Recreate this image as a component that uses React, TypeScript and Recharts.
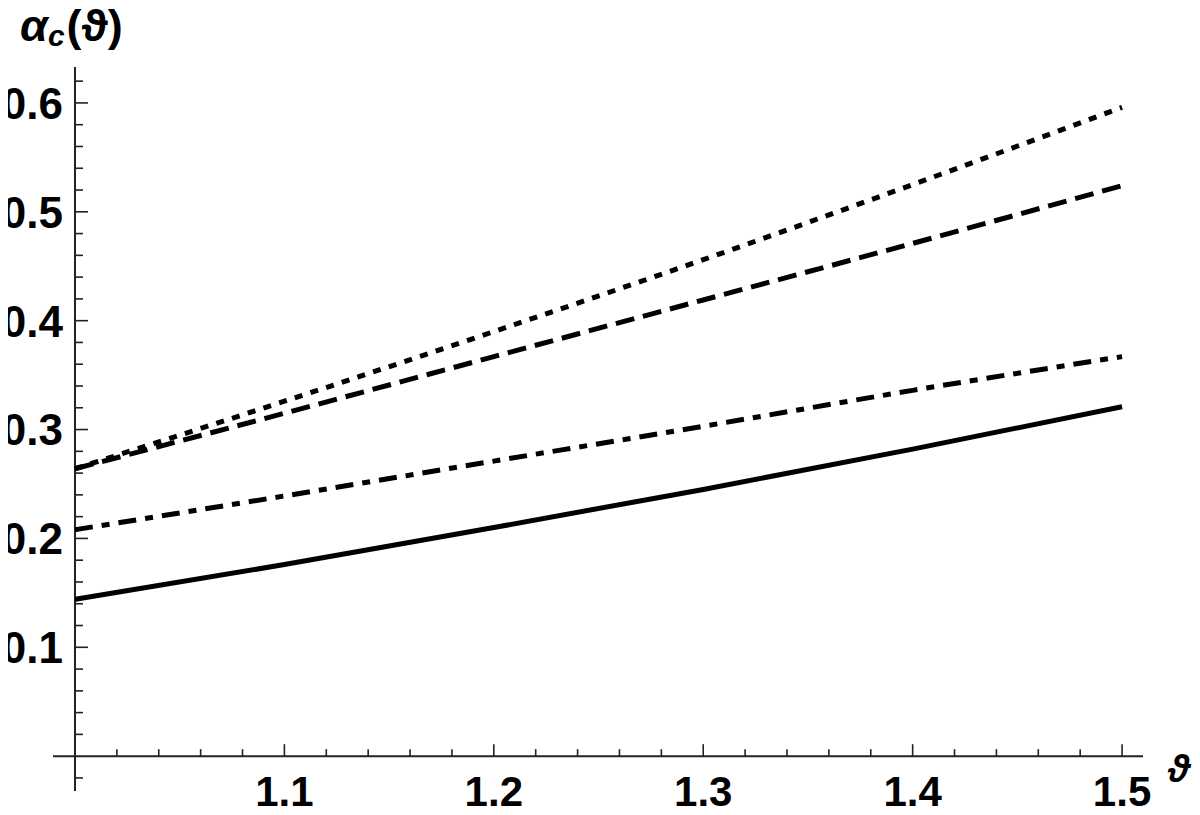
import React from 'react';
import { LineChart, Line, XAxis, YAxis, ReferenceLine } from 'recharts';

// values
const theta = [1.0, 1.1, 1.2, 1.3, 1.4, 1.5];
const solidVals = [0.144, 0.176, 0.21, 0.245, 0.282, 0.321];
const dotDashVals = [0.208, 0.239, 0.271, 0.303, 0.336, 0.367];
const dashedVals = [0.264, 0.315, 0.367, 0.419, 0.471, 0.524];
const dottedVals = [0.264, 0.326, 0.39, 0.456, 0.525, 0.596];

const xTickLabels = [1.1, 1.2, 1.3, 1.4, 1.5];
const yTickLabels = [0.1, 0.2, 0.3, 0.4, 0.5, 0.6];

const data = theta.map((t, i) => ({
  t,
  solid: solidVals[i],
  dotDash: dotDashVals[i],
  dashed: dashedVals[i],
  dotted: dottedVals[i],
}));

// chart fills the whole window (body margin cancelled below)
const W = 1200;
const H = 815;
// axes take 1px each (a 0px axis is not drawn)
const margin = { top: 67, right: 57, bottom: 23, left: 52 };
const X_DOMAIN: [number, number] = [0.9895, 1.51];
const Y_DOMAIN: [number, number] = [-0.032, 0.633];

// pixels per data unit, used for tick lengths
const XPX = (W - margin.left - 1 - margin.right) / (X_DOMAIN[1] - X_DOMAIN[0]);
const YPX = (H - margin.top - margin.bottom - 1) / (Y_DOMAIN[1] - Y_DOMAIN[0]);

const AXIS = '#222';
const FONT = '"Liberation Sans", Arial, sans-serif';

const xMinor: number[] = [];
for (let i = 1; i < 25; i++) if (i % 5 !== 0) xMinor.push(+(1 + i * 0.02).toFixed(2));
const yMinor: number[] = [];
for (let i = -1; i <= 31; i++) if (i % 5 !== 0) yMinor.push(+(i * 0.02).toFixed(2));

const XTick = (props: any) => (
  <text x={props.x} y={props.y + 15} textAnchor="middle" fontFamily={FONT} fontWeight="bold" fontSize={42} fill="#000">
    {Number(props.payload.value).toFixed(1)}
  </text>
);

const YTick = (props: any) => (
  <text x={props.x + 10} y={props.y} dy="0.36em" textAnchor="end" fontFamily={FONT} fontWeight="bold" fontSize={44} fill="#000">
    {Number(props.payload.value).toFixed(1)}
  </text>
);

export default function App() {
  return (
    <div style={{ position: 'relative', width: W, height: H, margin: -8 }}>
      <LineChart width={W} height={H} data={data} margin={margin}>
        <XAxis
          dataKey="t"
          type="number"
          domain={X_DOMAIN}
          allowDataOverflow
          ticks={xTickLabels}
          axisLine={false}
          tickLine={false}
          tickSize={0}
          tickMargin={0}
          height={1}
          tick={XTick}
          interval={0}
        />
        <YAxis
          type="number"
          domain={Y_DOMAIN}
          allowDataOverflow
          ticks={yTickLabels}
          axisLine={false}
          tickLine={false}
          tickSize={0}
          tickMargin={0}
          width={1}
          tick={YTick}
          interval={0}
        />

        <ReferenceLine x={1} stroke={AXIS} strokeWidth={2} />
        <ReferenceLine y={0} stroke={AXIS} strokeWidth={2} />

        {xTickLabels.map((v) => (
          <ReferenceLine key={'xM' + v} segment={[{ x: v, y: 0 }, { x: v, y: 12 / YPX }]} stroke={AXIS} strokeWidth={1.6} ifOverflow="visible" />
        ))}
        {xMinor.map((v) => (
          <ReferenceLine key={'xm' + v} segment={[{ x: v, y: 0 }, { x: v, y: 7 / YPX }]} stroke={AXIS} strokeWidth={1.6} ifOverflow="visible" />
        ))}
        {yTickLabels.map((v) => (
          <ReferenceLine key={'yM' + v} segment={[{ x: 1, y: v }, { x: 1 + 13 / XPX, y: v }]} stroke={AXIS} strokeWidth={1.6} ifOverflow="visible" />
        ))}
        {yMinor.map((v) => (
          <ReferenceLine key={'ym' + v} segment={[{ x: 1, y: v }, { x: 1 + 8 / XPX, y: v }]} stroke={AXIS} strokeWidth={1.6} ifOverflow="visible" />
        ))}

        <Line type="monotone" dataKey="solid" stroke="#000" strokeWidth={5} dot={false} isAnimationActive={false} />
        <Line type="monotone" dataKey="dotDash" stroke="#000" strokeWidth={5} strokeDasharray="18 9 8 9" dot={false} isAnimationActive={false} />
        <Line type="monotone" dataKey="dashed" stroke="#000" strokeWidth={5} strokeDasharray="19 9" dot={false} isAnimationActive={false} />
        <Line type="monotone" dataKey="dotted" stroke="#000" strokeWidth={5} strokeDasharray="8 8.5" dot={false} isAnimationActive={false} />
      </LineChart>

      <svg width={W} height={H} style={{ position: 'absolute', left: 0, top: 0, pointerEvents: 'none' }}>
        <text x={20} y={41} fontFamily={FONT} fontWeight="bold" fontSize={45} fill="#000">
          <tspan fontStyle="italic">α</tspan>
          <tspan fontStyle="italic" fontSize={30} dy={5}>c</tspan>
          <tspan dy={-5} dx={2}>(ϑ)</tspan>
        </text>
        <text x={1168} y={782} fontFamily={FONT} fontWeight="bold" fontStyle="italic" fontSize={38} fill="#000">
          ϑ
        </text>
      </svg>
    </div>
  );
}
